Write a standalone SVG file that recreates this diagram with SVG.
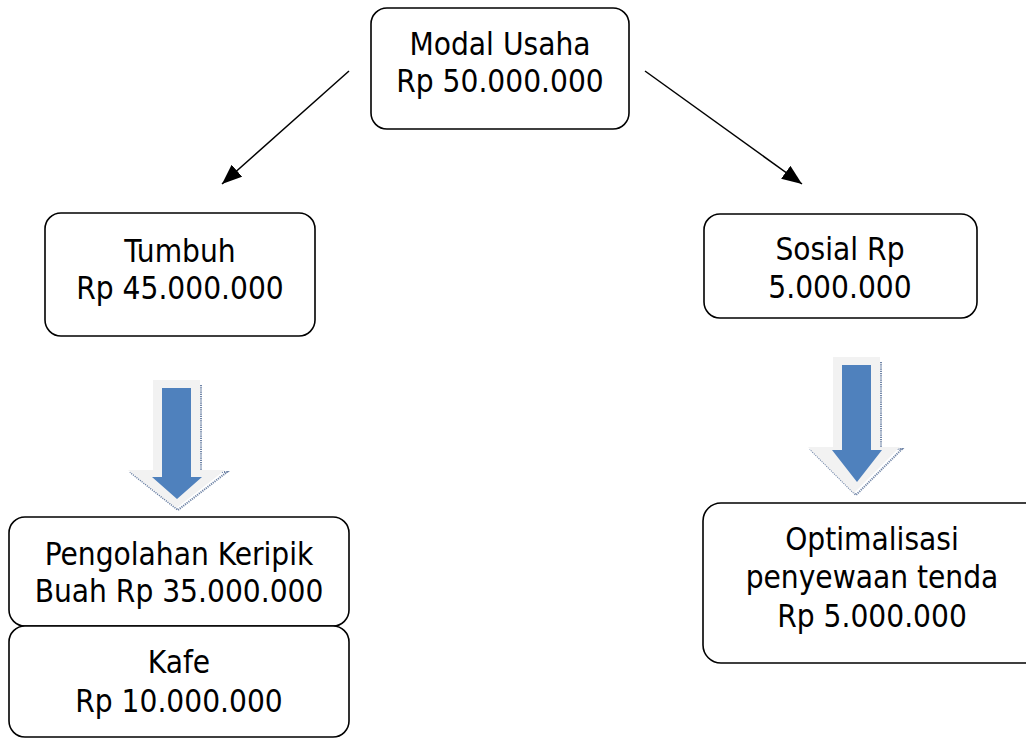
<svg xmlns="http://www.w3.org/2000/svg" width="1026" height="740" viewBox="0 0 1026 740">
<defs>
<style>
.box{fill:#fff;stroke:#000;stroke-width:1.6}
.t{font-family:'DejaVu Sans Condensed','DejaVu Sans',sans-serif;font-stretch:condensed;font-size:31.3px;fill:#000;text-anchor:middle}
.conn{stroke:#000;stroke-width:1.5;fill:none}
.outer{fill:#f2f2f2}
.shadow{fill:none;stroke:#6f84a6;stroke-width:2;stroke-dasharray:1.2 1}
.blue{fill:#4f81bd}
</style>
<marker id="ah" markerUnits="userSpaceOnUse" markerWidth="22" markerHeight="16" refX="20" refY="8" orient="auto">
<path d="M0,0 L20,8 L0,16 z" fill="#000"/>
</marker>
</defs>
<rect width="1026" height="740" fill="#fff"/>
<g id="connectors">
<line class="conn" x1="349" y1="71" x2="222" y2="184" marker-end="url(#ah)"/>
<line class="conn" x1="645" y1="71" x2="802" y2="184" marker-end="url(#ah)"/>
</g>
<g id="block-arrow-left">
<polyline class="shadow" points="201,385 201,472 227,472 178,510 130,472"/>
<polygon class="outer" points="153,380 200,380 200,470 225,470 176.5,508 128,470 153,470"/>
<polygon class="blue" points="162,388 191,388 191,477 202,477 177,499 152,477 162,477"/>
</g>
<g id="block-arrow-right">
<polyline class="shadow" points="881,362 881,449 902,449 856,495 810,449"/>
<polygon class="outer" points="833,357 880,357 880,447 900,447 854,493 808,447 833,447"/>
<polygon class="blue" points="842,365 871,365 871,450 882,450 857,482 832,450 842,450"/>
</g>
<g id="node-modal">
<rect class="box" x="371" y="8" width="258" height="121" rx="16"/>
<text class="t" x="500" y="55">Modal Usaha</text>
<text class="t" x="500" y="92">Rp 50.000.000</text>
</g>
<g id="node-tumbuh">
<rect class="box" x="45" y="213" width="270" height="123" rx="16"/>
<text class="t" x="180" y="262">Tumbuh</text>
<text class="t" x="180" y="299">Rp 45.000.000</text>
</g>
<g id="node-sosial">
<rect class="box" x="704" y="214" width="273" height="104" rx="16"/>
<text class="t" x="840" y="260">Sosial Rp</text>
<text class="t" x="840" y="298">5.000.000</text>
</g>
<g id="node-keripik">
<rect class="box" x="9" y="517" width="340" height="109" rx="16"/>
<text class="t" x="179" y="565">Pengolahan Keripik</text>
<text class="t" x="179" y="602">Buah Rp 35.000.000</text>
</g>
<g id="node-kafe">
<rect class="box" x="9" y="626" width="340" height="111" rx="16"/>
<text class="t" x="179" y="673">Kafe</text>
<text class="t" x="179" y="712">Rp 10.000.000</text>
</g>
<g id="node-tenda">
<rect class="box" x="703" y="503" width="340" height="160" rx="18"/>
<text class="t" x="872" y="550">Optimalisasi</text>
<text class="t" x="872" y="588">penyewaan tenda</text>
<text class="t" x="872" y="627">Rp 5.000.000</text>
</g>
</svg>
